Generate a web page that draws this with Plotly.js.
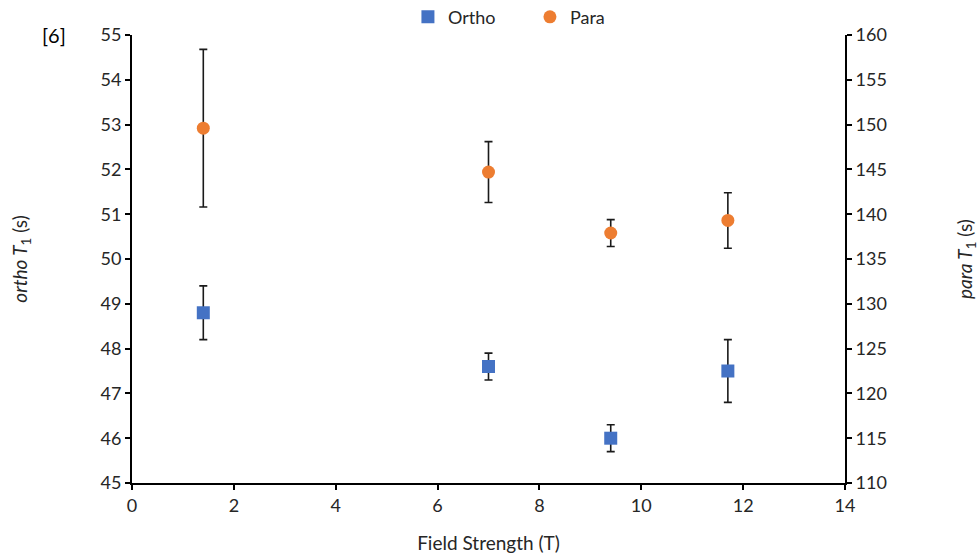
<!DOCTYPE html>
<html>
<head>
<meta charset="utf-8">
<script src="https://cdn.plot.ly/plotly-3.0.1.min.js"></script>
<style>html,body{margin:0;padding:0;background:#fff}#chart{width:979px;height:555px}</style>
</head>
<body>
<div id="chart"></div>
<script>
const fieldStrength = [1.4, 7.0, 9.4, 11.7];
const orthoT1 = [48.8, 47.6, 46.0, 47.5];
const orthoErr = [0.6, 0.3, 0.3, 0.7];
const paraT1 = [149.6, 144.7, 137.9, 139.3];
const paraErr = [8.8, 3.4, 1.5, 3.1];

const font = "Lato, 'Open Sans', 'Noto Sans', sans-serif";
const txt = '#262626';

const traces = [
  {
    x: fieldStrength, y: orthoT1, name: 'Ortho', type: 'scatter', mode: 'markers',
    marker: {symbol: 'square', size: 13, color: '#4472C4'},
    error_y: {type: 'data', array: orthoErr, visible: true, color: '#1a1a1a', thickness: 1.6, width: 4},
    yaxis: 'y'
  },
  {
    x: fieldStrength, y: paraT1, name: 'Para', type: 'scatter', mode: 'markers',
    marker: {symbol: 'circle', size: 13, color: '#ED7D31'},
    error_y: {type: 'data', array: paraErr, visible: true, color: '#1a1a1a', thickness: 1.6, width: 4},
    yaxis: 'y2'
  }
];

const axisCommon = {
  showgrid: false, zeroline: false, showline: true, linecolor: '#000', linewidth: 2,
  ticks: 'outside', ticklen: 5, tickwidth: 2, tickcolor: '#000',
  tickfont: {family: font, size: 18, color: txt}
};

const layout = {
  width: 979, height: 555,
  margin: {l: 132, r: 134, t: 35, b: 72, autoexpand: false},
  paper_bgcolor: '#fff', plot_bgcolor: '#fff',
  showlegend: true,
  legend: {orientation: 'h', x: 0.387, xanchor: 'left', y: 1.04, yanchor: 'middle',
           font: {family: font, size: 18, color: txt}, itemwidth: 30, tracegroupgap: 0,
           entrywidth: 77, entrywidthmode: 'pixels'},
  xaxis: Object.assign({}, axisCommon, {
    range: [0, 14], dtick: 2, tick0: 0,
    title: {text: 'Field Strength (T)', font: {family: font, size: 19, color: txt}, standoff: 22}
  }),
  yaxis: Object.assign({}, axisCommon, {
    range: [45, 55], dtick: 1,
    title: {text: '<i>ortho T</i><sub>1</sub> (s)', font: {family: font, size: 19, color: txt}, standoff: 68}
  }),
  yaxis2: Object.assign({}, axisCommon, {
    range: [110, 160], dtick: 5, overlaying: 'y', side: 'right',
    title: {text: '<i>para T</i><sub>1</sub> (s)', font: {family: font, size: 19, color: txt}, standoff: 74}
  }),
  annotations: [{
    text: '[6]', xref: 'paper', yref: 'paper', x: -0.11, y: 1.0, xanchor: 'center', yanchor: 'middle',
    showarrow: false, font: {family: font, size: 20, color: '#000'}
  }]
};

Plotly.newPlot('chart', traces, layout, {displayModeBar: false, staticPlot: true});
</script>
</body>
</html>
